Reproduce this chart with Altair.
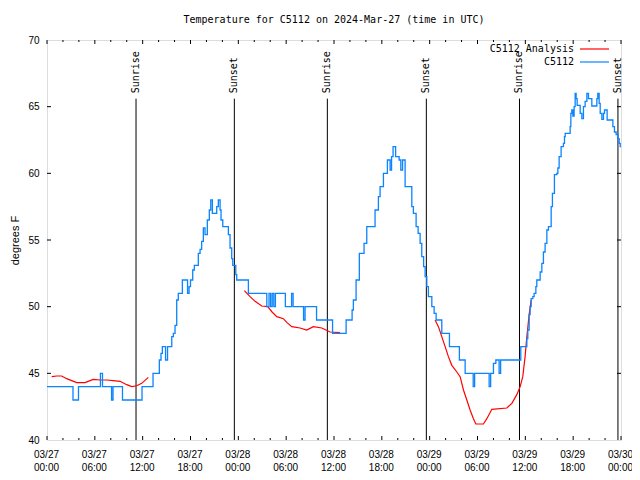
import altair as alt
import pandas as pd

# ---------------- data ----------------
START = pd.Timestamp("2024-03-27T00:00:00Z")
END = pd.Timestamp("2024-03-30T00:00:00Z")

# observed C5112 temperature (hours since 03/27 00:00 UTC, deg F)
blue_hours = [0, 3.26, 3.95, 6.7, 6.96, 8.1, 8.28, 9.47, 11.92, 13.3, 14.09, 14.3,
              14.47, 14.87, 15.12, 15.65, 15.85, 16.06, 16.27, 16.47, 16.98, 17.63,
              17.82, 18.0, 18.28, 18.48, 18.98, 19.2, 19.4, 19.61, 19.82, 20.11,
              20.36, 20.54, 20.74, 21.29, 21.49, 21.71, 21.83, 22.05, 22.75, 22.96,
              23.17, 23.3, 23.68, 23.8, 25.26, 27.57, 27.85, 28.05, 28.25, 28.45,
              28.65, 29.9, 30.68, 30.87, 32.18, 32.37, 33.81, 35.82, 37.52, 38.27,
              38.43, 38.77, 39.18, 39.77, 40.11, 41.15, 41.57, 41.78, 42.2, 42.7,
              43.04, 43.22, 43.41, 43.73, 44.17, 44.38, 44.6, 44.92, 45.76, 45.96,
              46.3, 46.55, 46.8, 47.01, 47.24, 47.43, 47.64, 47.84, 48.27, 48.56,
              48.81, 49.52, 50.48, 51.73, 52.45, 53.46, 53.64, 55.46, 55.65, 56.0,
              56.3, 56.71, 56.9, 59.43, 60.19, 60.31, 60.48, 60.6, 60.73, 60.94,
              61.1, 61.32, 61.44, 61.86, 62.07, 62.27, 62.48, 62.7, 62.9, 63.24,
              63.4, 63.65, 63.95, 64.08, 64.24, 64.49, 64.78, 64.91, 65.0, 65.62,
              65.71, 65.83, 65.96, 66.12, 66.25, 66.37, 66.5, 66.88, 67.09, 67.29,
              67.5, 67.72, 67.92, 68.34, 68.97, 69.09, 69.26, 69.39, 69.6, 69.8,
              69.93, 70.26, 70.98, 71.18, 71.39, 71.61, 71.77, 71.9, 72.0]
blue_temp = [44, 43, 44, 45, 44, 43, 44, 43, 44, 45, 46, 46.5,
             47, 46, 47, 47.75, 48, 48.6, 50.5, 51, 52, 51,
             51.5, 52, 52.75, 53.1, 54, 54.3, 54.9, 55.9, 55.4, 56.5,
             57.25, 58, 57, 57.5, 58, 57.25, 56.5, 56, 55.4, 54.4,
             53.6, 53.1, 52.4, 52, 51, 50, 51, 50, 51, 50,
             51, 50, 51, 50, 49, 50, 49, 48, 49, 49.75,
             50.5, 52, 54, 54.75, 56, 57.25, 58.25, 59, 60, 61,
             60.25, 61.25, 62, 61.25, 61, 60.25, 61, 59, 57.5, 57,
             56, 55.5, 54.75, 53.75, 53, 52.25, 51.5, 50.75, 50, 49.5,
             49, 48, 47, 46, 45, 44, 45, 44, 45, 45.75,
             46, 45, 46, 47, 47.6, 48.25, 49.4, 50, 50.6, 50.75,
             51, 51.5, 52, 52.6, 53.25, 54.1, 54.75, 55.75, 56, 57.5,
             58.5, 59.9, 60, 60.4, 61.25, 62, 62.25, 62.75, 63, 63.5,
             64.5, 64.75, 64.3, 65, 66, 65.6, 65.1, 64.5, 64.1, 65,
             65.4, 66, 65.6, 65.05, 65.6, 66, 65.25, 64.5, 64.05, 64.5,
             64.75, 64, 63.5, 63.1, 62.9, 62.6, 62.25, 62, 62]

# C5112 Analysis (three night-time pieces)
red_hours_1 = [0.59, 1.22, 1.84, 2.47, 3.1, 3.73, 4.77, 5.4, 5.81, 6.65, 7.49,
               8.32, 9.16, 10.0, 10.63, 11.25, 11.88, 12.71]
red_temp_1 = [44.75, 44.8, 44.8, 44.6, 44.45, 44.3, 44.3, 44.45, 44.55, 44.5, 44.5,
              44.45, 44.4, 44.15, 44.0, 44.07, 44.25, 44.7]
red_hours_2 = [24.76, 25.47, 26.1, 26.94, 27.69, 28.23, 28.82, 29.65, 30.11, 30.7,
               31.74, 32.58, 33.41, 34.47, 35.51, 36.76]
red_temp_2 = [51.2, 50.75, 50.4, 50.05, 50.0, 49.6, 49.25, 49.1, 48.8, 48.5,
              48.4, 48.25, 48.5, 48.4, 48.1, 48.05]
red_hours_3 = [48.68, 49.1, 49.52, 49.94, 50.35, 50.78, 51.41, 51.82, 52.24, 52.66,
               53.07, 53.49, 53.79, 54.74, 55.17, 55.8, 57.68, 58.31, 58.93, 59.35,
               59.68, 59.97, 60.19, 60.48, 60.73]
red_temp_3 = [49, 48.5, 47.75, 47, 46.25, 45.6, 45.1, 44.75, 43.75, 43,
              42.25, 41.6, 41.2, 41.2, 41.6, 42.3, 42.4, 42.75, 43.4, 44,
              44.75, 46.25, 47.75, 49.4, 50.5]

sun_events = ["Sunrise", "Sunset", "Sunrise", "Sunset", "Sunrise", "Sunset"]
sun_times = ["2024-03-27T11:10:00Z", "2024-03-27T23:30:00Z", "2024-03-28T11:10:00Z",
             "2024-03-28T23:35:00Z", "2024-03-29T11:16:00Z", "2024-03-29T23:37:00Z"]

series_names = ["C5112 Analysis", "C5112"]
series_colors = ["#ff0000", "#0a84ff"]
y_tick_values = [45, 50, 55, 60, 65]
x_tick_step_hours = 2
x_label_step_hours = 6

FONT = "DejaVu Sans Mono"
W, H = 574, 400


def iso(h):
    return (START + pd.Timedelta(hours=h)).strftime("%Y-%m-%dT%H:%M:%SZ")


def ms(ts):
    return int(ts.value // 10**6)


blue_df = pd.DataFrame({"time": [iso(h) for h in blue_hours], "temp": blue_temp,
                        "series": "C5112", "seg": 0})
red_parts = []
for k, (hh, tt) in enumerate([(red_hours_1, red_temp_1), (red_hours_2, red_temp_2),
                              (red_hours_3, red_temp_3)]):
    red_parts.append(pd.DataFrame({"time": [iso(h) for h in hh], "temp": tt,
                                   "series": "C5112 Analysis", "seg": k}))
red_df = pd.concat(red_parts, ignore_index=True)

sun_df = pd.DataFrame({"time": sun_times, "event": sun_events,
                       "y0": 40.0, "y1": 65.6, "ty": 66.0})

total_h = int((END - START) / pd.Timedelta(hours=1))
all_tick_h = list(range(0, total_h + 1, x_tick_step_hours))
major_df = pd.DataFrame({"time": [iso(h) for h in all_tick_h if h % x_label_step_hours == 0]})
minor_df = pd.DataFrame({"time": [iso(h) for h in all_tick_h if h % x_label_step_hours != 0]})
ytick_df = pd.DataFrame({"temp": y_tick_values})

label_values = [ms(START + pd.Timedelta(hours=h))
                for h in range(0, total_h + 1, x_label_step_hours)]

x_scale = alt.Scale(type="utc", domain=[ms(START), ms(END)], nice=False)
y_scale = alt.Scale(domain=[40, 70], nice=False, zero=False)
color_scale = alt.Scale(domain=series_names, range=series_colors)

x_axis = alt.Axis(values=label_values, title=None, grid=False, domain=False, ticks=False,
                  tickSize=0, labelPadding=9, labelLineHeight=13, labelFlush=False,
                  labelOverlap=False, labelOffset=-1,
                  labelExpr="[utcFormat(datum.value, '%m/%d'), utcFormat(datum.value, '%H:%M')]")
y_axis = alt.Axis(values=[40, 45, 50, 55, 60, 65, 70], title="degrees F", grid=False,
                  domain=False, ticks=False, tickSize=0, labelPadding=8, titlePadding=7,
                  labelFlush=False, titleFontWeight="normal")

X = alt.X("time:T", scale=x_scale, axis=x_axis)
Y = alt.Y("temp:Q", scale=y_scale, axis=y_axis)

blue = alt.Chart(blue_df).mark_line(interpolate="step-after", strokeWidth=1.3).encode(
    x=X, y=Y, color=alt.Color("series:N", scale=color_scale, legend=None))
red = alt.Chart(red_df).mark_line(strokeWidth=1.2).encode(
    x=X, y=Y, color=alt.Color("series:N", scale=color_scale, legend=None), detail="seg:N")

sun_rule = alt.Chart(sun_df).mark_rule(color="black", strokeWidth=1).encode(
    x="time:T", y=alt.Y("y0:Q", scale=y_scale), y2="y1:Q")
sun_text = alt.Chart(sun_df).mark_text(angle=270, align="left", baseline="middle",
                                       font=FONT, fontSize=10, color="black").encode(
    x="time:T", y=alt.Y("ty:Q", scale=y_scale), text="event:N")


def xticks(df, y_from, y_to):
    return alt.Chart(df).mark_rule(color="black").encode(
        x="time:T", y=alt.value(y_from), y2=alt.value(y_to))


tick_layers = [xticks(major_df, H, H - 4), xticks(minor_df, H, H - 2),
               xticks(major_df, 0, 4), xticks(minor_df, 0, 2)]
left_ticks = alt.Chart(ytick_df).mark_rule(color="black").encode(
    y=alt.Y("temp:Q", scale=y_scale), x=alt.value(0), x2=alt.value(4))
right_ticks = alt.Chart(ytick_df).mark_rule(color="black").encode(
    y=alt.Y("temp:Q", scale=y_scale), x=alt.value(W - 4), x2=alt.value(W))

legend_layers = []
for i, name in enumerate(series_names):
    ly = 9 + 13 * i
    legend_layers.append(alt.Chart(pd.DataFrame({"series": [name]})).mark_text(
        align="right", baseline="middle", font=FONT, fontSize=10, color="black").encode(
        x=alt.value(527), y=alt.value(ly), text="series:N"))
    legend_layers.append(alt.Chart(pd.DataFrame({"series": [name]})).mark_rule(
        strokeWidth=1.2).encode(
        x=alt.value(533), x2=alt.value(562), y=alt.value(ly),
        color=alt.Color("series:N", scale=color_scale, legend=None)))

chart = alt.layer(
    sun_rule, sun_text, red, blue, *tick_layers, left_ticks, right_ticks, *legend_layers
).properties(
    width=W, height=H,
    title=alt.TitleParams("Temperature for C5112 on 2024-Mar-27 (time in UTC)",
                          font=FONT, fontSize=10, fontWeight="normal",
                          anchor="middle", offset=10, color="black"),
    autosize=alt.AutoSizeParams(type="none"),
    padding={"left": 39, "top": 32, "right": 11, "bottom": 32},
).configure_view(stroke="black", strokeWidth=1).configure_axis(
    labelFont=FONT, labelFontSize=10, labelColor="black",
    titleFont=FONT, titleFontSize=10, titleFontWeight="normal", titleColor="black"
).configure(background="white")

chart.save("out.html", embed_options={"renderer": "svg", "actions": False})
